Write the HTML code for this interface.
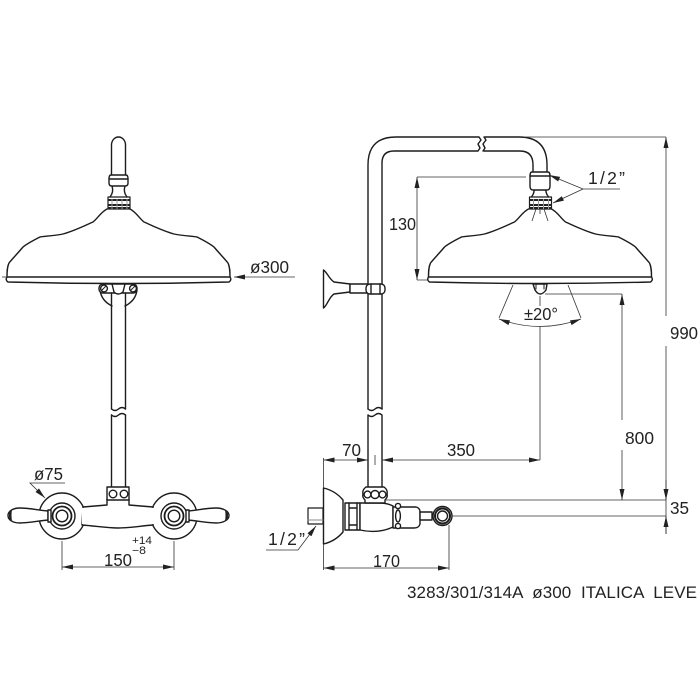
<!DOCTYPE html>
<html><head><meta charset="utf-8"><style>
html,body{margin:0;padding:0;background:#fff}
svg{display:block;filter:blur(.3px)}
.o{fill:none;stroke:#1c1c1c;stroke-width:1.4;stroke-linejoin:round;stroke-linecap:round}
.w{fill:#fff;stroke:#1c1c1c;stroke-width:1.4;stroke-linejoin:round}
.d{fill:none;stroke:#333;stroke-width:.8}
.a{fill:#222;stroke:none}
text{font-family:"Liberation Sans",sans-serif;fill:#222;font-size:17.5px}
</style></head><body>
<svg width="700" height="700" viewBox="0 0 700 700" xmlns="http://www.w3.org/2000/svg">
<defs>
<g id="head">
<path class="o" d="M107 209 C101 212 98 218 93 222 C84 226 74 231 63 234 C53 236 46 236 40 237 C34 240 28 243 23 247 C18 253 13 258 9 263 C7 267 7 272 7 277"/>
<path class="o" d="M130 209 C136 212 139 218 144 222 C153 226 163 231 174 234 C184 236 191 236 197 237 C203 240 209 243 214 247 C219 253 224 258 228 263 C230 267 230 272 230 277"/>
<path class="w" d="M7 277 H230 Q232 280 229 282 Q118 285 8 282 Q5 280 7 277Z"/>
<path class="w" style="stroke-width:1.2" d="M108 197 H130 V209 H108Z"/>
<path class="a" d="M108 199 h22 v2 h-22z M108 204 h22 v2 h-22z M108 207 h22 v2 h-22z"/>
<path d="M112 199 v10 M117 199 v10 M122 199 v10 M127 199 v10" stroke="#999" stroke-width="1" fill="none"/>
<path class="o" d="M112 186 Q114 192 110 197 M125 186 Q123 192 127 197"/>
</g>
<marker id="m" viewBox="0 0 11 5" refX="11" refY="2.5" markerWidth="11" markerHeight="5" markerUnits="userSpaceOnUse" orient="auto-start-reverse"><path d="M0 0 L11 2.5 L0 5Z" fill="#222"/></marker>
</defs>

<!-- LEFT VIEW -->
<use href="#head"/>
<path class="o" d="M111.5 175 V145 A7 8 0 0 1 125.5 145 V175"/>
<path class="w" d="M111 175 H126 Q128 175 128 179 V183 Q128 186 125 186 H112 Q109 186 109 183 V179 Q109 175 111 175Z"/>
<path class="o" d="M109 179 H128"/>
<!-- bracket -->
<path class="o" d="M100 290 C101 298 106 303 112 306 M137 290 C136 298 131 303 125 306"/>
<rect class="w" x="99" y="284" width="38" height="9" rx="4"/>
<circle class="o" cx="104" cy="288.5" r="3.4"/><circle class="o" cx="133" cy="288.5" r="3.4"/>
<path class="o" style="stroke-width:1" d="M102 290 L106 286 M131 290 L135 286"/>
<path class="w" d="M112 284 H125 L123 292 Q118 296 114 292Z"/>
<!-- pipe -->
<path class="o" d="M111.5 293 V409 M125.5 293 V409"/>
<path class="o" d="M111.5 409 q3.5 3 7 0 q3.5 -3 7 0 M111.5 415 q3.5 3 7 0 q3.5 -3 7 0"/>
<path class="o" d="M111.5 415 V487 M125.5 415 V487"/>
<!-- valve -->
<circle class="w" cx="62" cy="516" r="23"/><circle class="w" cx="174" cy="516" r="23"/>
<path class="w" d="M83 507 L107 505 V499 H129 V505 L153 507 V525 C140 526 130 528 118 528 C106 528 96 526 82 525Z"/>
<path class="w" style="stroke:none" d="M82 508 H154 V524 H82Z"/>
<path class="w" d="M107 487 H129 V500 H107Z"/>
<circle class="o" cx="113" cy="494" r="3.8"/><circle class="o" cx="124" cy="494" r="3.8"/>
<circle class="w" cx="62" cy="516" r="13"/><circle class="o" cx="62" cy="516" r="9.5" style="stroke-width:1.8"/><circle class="o" cx="62" cy="516" r="5.8"/>
<circle class="w" cx="174" cy="516" r="13"/><circle class="o" cx="174" cy="516" r="9.5" style="stroke-width:1.8"/><circle class="o" cx="174" cy="516" r="5.8"/>
<path class="w" d="M48 511 C38 510 28 508 20 508 C13 508 8 511 8 515.5 C8 520 13 523 20 523 C28 523 38 521 48 520Z"/>
<path class="w" d="M188 511 C198 510 208 508 216 508 C223 508 229 511 229 515.5 C229 520 223 523 216 523 C208 523 198 521 188 520Z"/>
<path class="a" d="M9 512 Q10 510 12 510 Q11 515 12 521 Q10 521 9 519Z M228 512 Q227 510 225 510 Q226 515 225 521 Q227 521 228 519Z"/>
<rect class="w" x="48" y="510" width="3" height="12"/><rect class="w" x="186" y="510" width="3" height="12"/>
<!-- left dims -->
<path class="d" d="M2 277 H6"/>
<path class="d" d="M295 277 H234" marker-end="url(#m)"/>
<text x="250" y="273" textLength="39" lengthAdjust="spacingAndGlyphs">ø300</text>
<path class="d" d="M65 483 H30 L45 498" marker-end="url(#m)"/>
<text x="34" y="480" textLength="29" lengthAdjust="spacingAndGlyphs">ø75</text>
<path class="d" d="M62 541 V570 M174 541 V570"/>
<path class="d" d="M62 567 H174" marker-start="url(#m)" marker-end="url(#m)"/>
<text x="104" y="566" textLength="28" lengthAdjust="spacingAndGlyphs">150</text>
<text x="132" y="544" textLength="20" lengthAdjust="spacingAndGlyphs" style="font-size:11px">+14</text>
<text x="132" y="554" textLength="14" lengthAdjust="spacingAndGlyphs" style="font-size:11px">−8</text>

<!-- RIGHT VIEW -->
<use href="#head" x="421.5"/>
<path class="o" d="M368 409 V165 Q368 137 396 137 H479 L481 140 L478 144 L480 148 L478 151 H394 Q382 151 382 163 V409"/>
<path class="o" d="M485 137 H519 Q547 137 547 165 V172 M484 151 H520 Q533 151 533 165 V172 M484 137 L486 140 L483 144 L485 148 L483 151"/>
<path class="w" d="M532 172 H548 Q550 172 550 176 V186 Q550 190 547 190 H533 Q530 190 530 186 V176 Q530 172 532 172Z"/>
<path class="o" d="M530 176 H550"/>
<path class="o" d="M368 409 q3.5 3 7 0 q3.5 -3 7 0 M368 415 q3.5 3 7 0 q3.5 -3 7 0 M368 415 V487 M382 415 V487"/>
<!-- wall bracket -->
<path class="w" d="M323.5 270 C327 272 329 279 334 282 L350 284 V292 L334 294 C329 297 327 306 323.5 308Z"/>
<path class="w" d="M350 284 H368 V293 H350Z"/>
<rect class="w" x="366" y="284" width="19" height="10" rx="4"/>
<path class="o" d="M371 284 V294 M380 284 V294"/>
<!-- nozzle -->
<path class="w" d="M533 284 H547 L546 290 Q540 298 535 290Z"/>
<path class="o" style="stroke-width:1" d="M536 284 V289 M544 284 V289"/>
<!-- right valve -->
<path class="w" d="M323.5 488 C332 490 338 494 343 500 V532 C338 538 332 542 323.5 544Z"/>
<path class="w" d="M308 508 H323 V524 H308Z" style="stroke-width:1.2"/>
<path class="o" d="M308 520 H323" style="stroke:#888;stroke-width:1"/>
<rect class="w" x="345" y="503" width="15" height="27"/>
<path class="o" d="M349 503 V530 M357 503 V530 M349 508 H357 M349 525 H357"/>
<path class="w" d="M360 503 H378 Q388 503 393 506 V527 Q378 534 360 530Z"/>
<path class="w" d="M393 507 H416 Q420 508 420 512 V524 Q419 528 414 528 H393Z"/>
<circle class="w" cx="398" cy="506" r="2.6"/><circle class="w" cx="398" cy="526" r="2.6"/>
<ellipse class="o" cx="398" cy="516" rx="2.4" ry="6"/>
<path class="w" d="M420 512 H432 V520 H420Z"/>
<circle class="w" cx="442.5" cy="516" r="9.5"/><circle class="o" cx="442.5" cy="516" r="7.5" style="stroke-width:2"/><circle class="o" cx="442.5" cy="516" r="5"/>
<path class="w" d="M366 487 H384 Q388 490 387 494 Q388 497 385 500 V503 H365 V500 Q362 497 363 494 Q362 490 366 487Z"/>
<circle class="o" cx="367.5" cy="494.5" r="3.4"/><circle class="o" cx="375" cy="494.5" r="4"/><circle class="o" cx="382.5" cy="494.5" r="3.4"/>
<!-- right dims -->
<path class="d" d="M526 177 H417 M417 280 H428"/>
<path class="d" d="M417 177 V280" marker-start="url(#m)" marker-end="url(#m)"/>
<text x="389" y="230" textLength="27" lengthAdjust="spacingAndGlyphs">130</text>
<path class="d" d="M620 189 H583 L549 175" marker-end="url(#m)"/>
<path class="d" d="M583 189 L553 203" marker-end="url(#m)"/>
<text x="588" y="184" textLength="37" lengthAdjust="spacing">1/2”</text>
<path class="d" d="M532 221 L536 209 M548 221 L544 209 M540 214 V209"/>
<path class="d" d="M525 137 H666"/>
<path class="d" d="M666 316 V137" marker-end="url(#m)"/>
<path class="d" d="M666 346 V534"/>
<path class="d" d="M666 480 V500" marker-end="url(#m)"/>
<path class="d" d="M666 534 V516" marker-end="url(#m)"/>
<text x="670" y="339" textLength="28" lengthAdjust="spacingAndGlyphs">990</text>
<text x="670" y="514" textLength="19" lengthAdjust="spacingAndGlyphs">35</text>
<path class="d" d="M513 285 L499 318 M568 285 L581 318"/>
<path class="d" d="M499 319 Q540 334 581 319" marker-start="url(#m)" marker-end="url(#m)"/>
<text x="524" y="320" textLength="34" lengthAdjust="spacingAndGlyphs">±20°</text>
<path class="d" d="M540 296 V306 M540 326 V460"/>
<path class="d" d="M545 294 H622"/>
<path class="d" d="M622 420 V294" marker-end="url(#m)"/>
<path class="d" d="M622 450 V500" marker-end="url(#m)"/>
<text x="625" y="444" textLength="29" lengthAdjust="spacingAndGlyphs">800</text>
<path class="d" d="M385 500 H666 M452 516 H666"/>
<path class="d" d="M323.5 458 V488 M323.5 544 V570 M449 525 V570"/>
<path class="d" d="M323.5 460 H368" marker-start="url(#m)" marker-end="url(#m)"/>
<path class="d" d="M540 460 H382" marker-start="url(#m)" marker-end="url(#m)"/>
<path class="d" d="M375 455 V465"/>
<text x="342" y="456" textLength="19" lengthAdjust="spacingAndGlyphs">70</text>
<text x="447" y="456" textLength="28" lengthAdjust="spacingAndGlyphs">350</text>
<path class="d" d="M323.5 568 H449" marker-start="url(#m)" marker-end="url(#m)"/>
<text x="373" y="567" textLength="27" lengthAdjust="spacingAndGlyphs">170</text>
<path class="d" d="M266 550 H298 L316 526" marker-end="url(#m)"/>
<text x="268" y="545" textLength="37" lengthAdjust="spacing">1/2”</text>
<text x="407" y="598" textLength="290" lengthAdjust="spacing" style="font-size:17px" xml:space="preserve">3283/301/314A  ø300  ITALICA  LEVE</text>
</svg>
</body></html>
